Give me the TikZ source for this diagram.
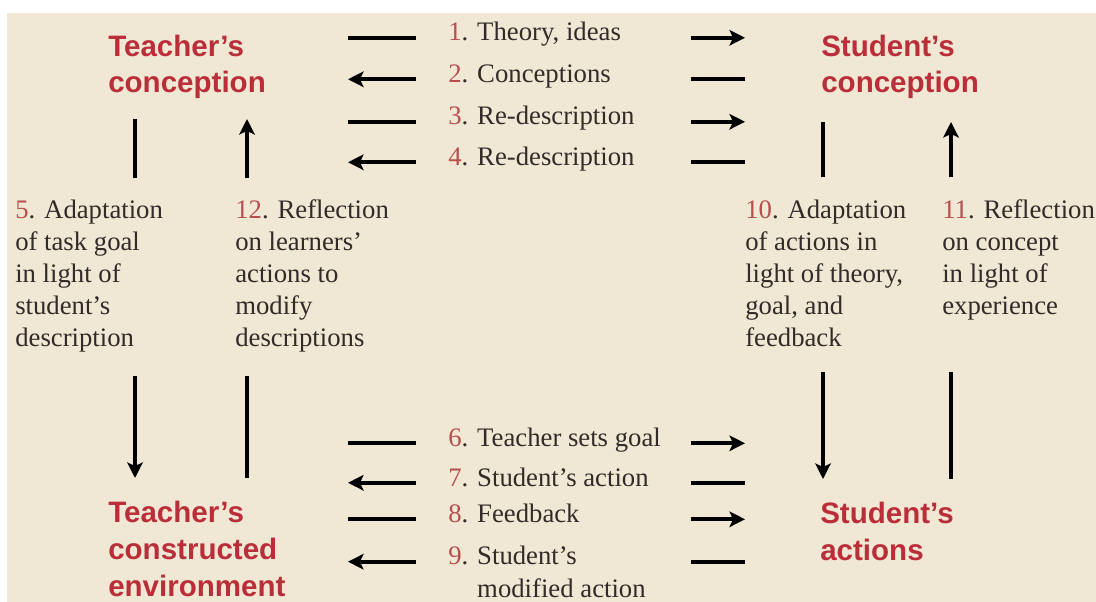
\documentclass[tikz,border=0pt]{standalone}
\usepackage{fontspec}
\setmainfont{Liberation Serif}
\setsansfont{Liberation Sans}
\usepackage{tikz}
\usetikzlibrary{arrows.meta}

\definecolor{paper}{RGB}{240,232,213}
\definecolor{boxred}{RGB}{186,46,58}
\definecolor{numred}{RGB}{184,78,78}
\definecolor{ink}{RGB}{50,43,40}
\newcommand{\nr}[1]{\textcolor{numred}{#1}.}

\begin{document}
\begin{tikzpicture}[x=0.025cm,y=-0.025cm,
    heading/.style={anchor=base west,inner sep=0pt,align=left,text=boxred,
      font=\sffamily\bfseries\fontsize{21}{26.3}\selectfont},
    note/.style={anchor=base west,inner sep=0pt,align=left,text=ink,
      font=\fontsize{19}{22.8}\selectfont},
    bar/.style={line width=2.9pt},
    link/.style={line width=2.9pt,-{Stealth[length=11pt,width=11pt,inset=2.5pt]}}]
    \useasboundingbox (0,0) rectangle (1096,602);
    \fill[white] (0,0) rectangle (1096,602);
    \fill[paper] (7,13) rectangle (1096,602);

    \draw (108,93) node[heading] (tcon) {Teacher’s\\conception};
    \draw (821,93) node[heading] (scon) {Student’s\\conception};
    \draw (108,596) node[heading] (tenv) {Teacher’s\\constructed\\environment};
    \draw (820,560) node[heading] (sact) {Student’s\\actions};

    \draw (448,41) node[note] (n1) {\nr{1} Theory, ideas};
    \draw (448,82.5) node[note] (n2) {\nr{2} Conceptions};
    \draw (448,125) node[note] (n3) {\nr{3} Re-description};
    \draw (448,165.5) node[note] (n4) {\nr{4} Re-description};
    \draw (448,446.5) node[note] (n6) {\nr{6} Teacher sets goal};
    \draw (448,486) node[note] (n7) {\nr{7} Student’s action};
    \draw (448,522.5) node[note] (n8) {\nr{8} Feedback};
    \draw (448,597) node[note] (n9) {\nr{9} Student’s\\\phantom{9. }modified action};

    \draw (15,347) node[note] (n5) {\nr{5} Adaptation\\of task goal\\in light of\\student’s\\description};
    \draw (235,347) node[note] (n12) {\nr{12} Reflection\\on learners’\\actions to\\modify\\descriptions};
    \draw (745,347) node[note] (n10) {\nr{10} Adaptation\\of actions in\\light of theory,\\goal, and\\feedback};
    \draw (942,315) node[note] (n11) {\nr{11} Reflection\\on concept\\in light of\\experience};

    \coordinate (la) at (348,0);
    \coordinate (lb) at (416,0);
    \coordinate (ra) at (691,0);
    \coordinate (rb) at (745,0);
    \coordinate (r9) at ([yshift=22.8pt]n9.mid west);

    \path[bar] (n1.mid west -| la) edge (n1.mid west -| lb);
    \path[link] (n1.mid west -| ra) edge (n1.mid west -| rb);
    \path[link] (n2.mid west -| lb) edge (n2.mid west -| la);
    \path[bar] (n2.mid west -| ra) edge (n2.mid west -| rb);
    \path[bar] (n3.mid west -| la) edge (n3.mid west -| lb);
    \path[link] (n3.mid west -| ra) edge (n3.mid west -| rb);
    \path[link] (n4.mid west -| lb) edge (n4.mid west -| la);
    \path[bar] (n4.mid west -| ra) edge (n4.mid west -| rb);

    \path[bar] (n6.mid west -| la) edge (n6.mid west -| lb);
    \path[link] (n6.mid west -| ra) edge (n6.mid west -| rb);
    \path[link] (n7.mid west -| lb) edge (n7.mid west -| la);
    \path[bar] (n7.mid west -| ra) edge (n7.mid west -| rb);
    \path[bar] (n8.mid west -| la) edge (n8.mid west -| lb);
    \path[link] (n8.mid west -| ra) edge (n8.mid west -| rb);
    \path[link] (r9 -| lb) edge (r9 -| la);
    \path[bar] (r9 -| ra) edge (r9 -| rb);

    \coordinate (ta) at (135,119);
    \coordinate (tb) at (135,178);
    \coordinate (ba) at (135,376);
    \coordinate (bb) at (135,478);
    \coordinate (tc) at (247,119);
    \coordinate (ua) at (823,122);
    \coordinate (ub) at (823,177);
    \coordinate (va) at (823,372);
    \coordinate (vb) at (823,479);
    \coordinate (uc) at (951,122);

    \path[bar] (ta) edge (tb);
    \path[link] (ba) edge (bb);
    \path[link] (tb -| tc) edge (ta -| tc);
    \path[bar] (ba -| tc) edge (bb -| tc);
    \path[bar] (ua) edge (ub);
    \path[link] (va) edge (vb);
    \path[link] (ub -| uc) edge (ua -| uc);
    \path[bar] (va -| uc) edge (vb -| uc);

\end{tikzpicture}
\end{document}
